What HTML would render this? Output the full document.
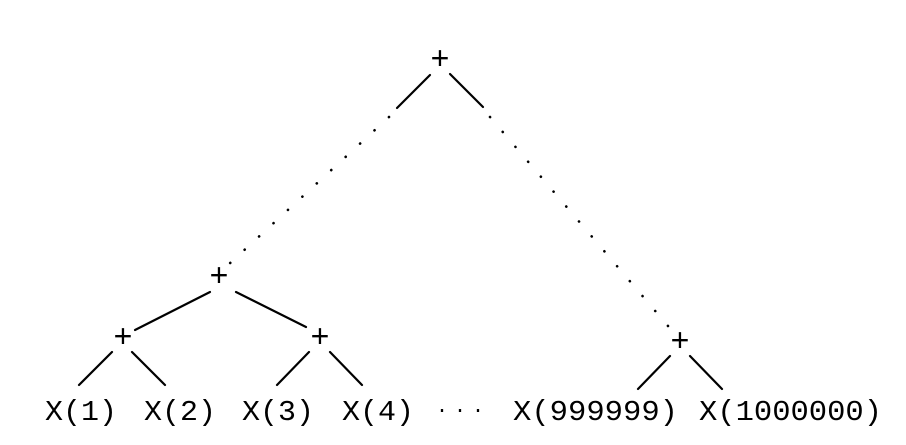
<!DOCTYPE html>
<html><head><meta charset="utf-8"><style>
html,body{margin:0;padding:0;background:#fff;width:906px;height:445px;overflow:hidden}
text{font-family:"Liberation Mono","DejaVu Sans Mono",monospace;fill:#000}
</style></head><body>
<svg width="906" height="445" viewBox="0 0 906 445" xmlns="http://www.w3.org/2000/svg">
<g stroke="#000" stroke-width="2.2" stroke-linecap="round">
<line x1="430" y1="75" x2="397" y2="108"/>
<line x1="450" y1="74" x2="483" y2="107"/>
<line x1="210" y1="292" x2="135" y2="330"/>
<line x1="236" y1="292" x2="306" y2="327"/>
<line x1="112" y1="352" x2="79" y2="385"/>
<line x1="132" y1="352" x2="165" y2="385"/>
<line x1="309" y1="352" x2="277" y2="385"/>
<line x1="330" y1="352" x2="362" y2="385"/>
<line x1="670" y1="356" x2="638" y2="389"/>
<line x1="690" y1="356" x2="722" y2="389"/>
</g>
<g stroke="#000" stroke-width="2.6" stroke-linecap="round" stroke-dasharray="0.1 19.5">
<line x1="389" y1="117" x2="228" y2="265"/>
<line x1="490" y1="117" x2="668" y2="326"/>
</g>
<g font-size="32" text-anchor="middle">
<text x="440" y="69">+</text>
<text x="219" y="286">+</text>
<text x="123" y="347">+</text>
<text x="320" y="347">+</text>
<text x="680" y="351">+</text>
</g>
<g font-size="29">
<text x="45" y="420" textLength="72" lengthAdjust="spacingAndGlyphs">X(1)</text>
<text x="144" y="420" textLength="72" lengthAdjust="spacingAndGlyphs">X(2)</text>
<text x="242" y="420" textLength="72" lengthAdjust="spacingAndGlyphs">X(3)</text>
<text x="342" y="420" textLength="72" lengthAdjust="spacingAndGlyphs">X(4)</text>
<text x="513" y="420" textLength="165" lengthAdjust="spacingAndGlyphs">X(999999)</text>
<text x="699" y="420" textLength="183" lengthAdjust="spacingAndGlyphs">X(1000000)</text>
<text x="436" y="416" font-size="20" textLength="48" lengthAdjust="spacing">···</text>
</g>
</svg>
</body></html>
